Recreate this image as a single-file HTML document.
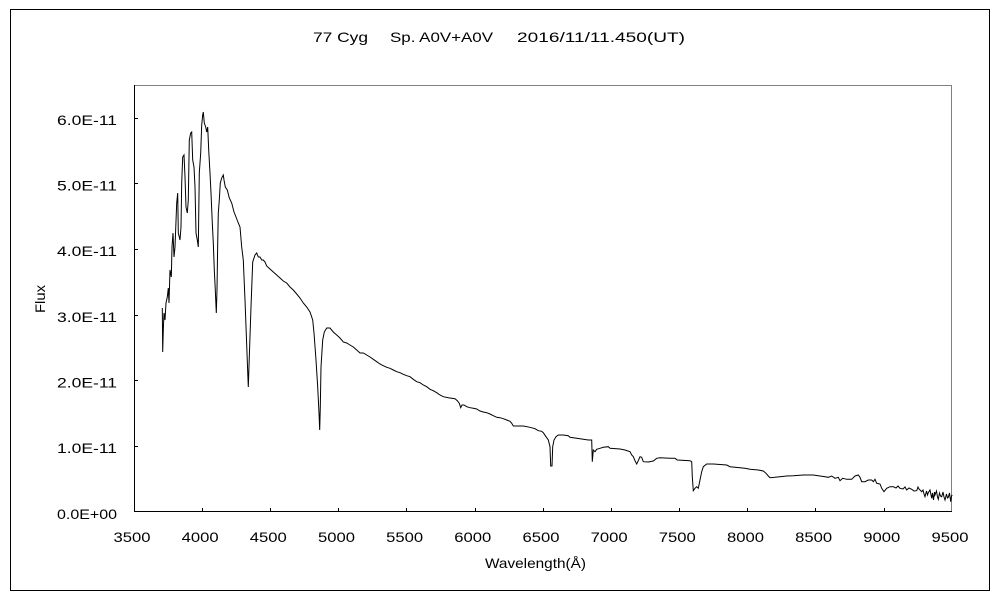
<!DOCTYPE html>
<html><head><meta charset="utf-8"><style>
html,body{margin:0;padding:0;background:#fff;}
svg{display:block;}
text{font-family:"Liberation Sans",sans-serif;font-size:14px;fill:#000;}
</style></head><body>
<svg width="1000" height="600" viewBox="0 0 1000 600" xmlns="http://www.w3.org/2000/svg">
<rect x="0" y="0" width="1000" height="600" fill="#fff"/>
<rect x="10.5" y="9.5" width="979" height="581" fill="none" stroke="#000" stroke-width="1"/>
<!-- title -->
<text x="313" y="42" textLength="55" lengthAdjust="spacingAndGlyphs">77 Cyg</text>
<text x="390" y="42" textLength="103" lengthAdjust="spacingAndGlyphs">Sp. A0V+A0V</text>
<text x="517" y="42" textLength="168" lengthAdjust="spacingAndGlyphs">2016/11/11.450(UT)</text>
<!-- plot frame -->
<line x1="134" y1="85.5" x2="952" y2="85.5" stroke="#808080" stroke-width="1"/>
<line x1="951.5" y1="85" x2="951.5" y2="512" stroke="#808080" stroke-width="1"/>
<line x1="134.5" y1="85" x2="134.5" y2="512" stroke="#000" stroke-width="1"/>
<line x1="134" y1="511.5" x2="952" y2="511.5" stroke="#000" stroke-width="1"/>
<!-- y ticks -->
<g stroke="#000" stroke-width="1">
<line x1="134" y1="446.5" x2="138" y2="446.5"/>
<line x1="134" y1="380.5" x2="138" y2="380.5"/>
<line x1="134" y1="315.5" x2="138" y2="315.5"/>
<line x1="134" y1="249.5" x2="138" y2="249.5"/>
<line x1="134" y1="183.5" x2="138" y2="183.5"/>
<line x1="134" y1="118.5" x2="138" y2="118.5"/>
</g>
<!-- x ticks -->
<g stroke="#000" stroke-width="1">
<line x1="202.5" y1="508" x2="202.5" y2="512"/>
<line x1="270.5" y1="508" x2="270.5" y2="512"/>
<line x1="338.5" y1="508" x2="338.5" y2="512"/>
<line x1="406.5" y1="508" x2="406.5" y2="512"/>
<line x1="475.5" y1="508" x2="475.5" y2="512"/>
<line x1="543.5" y1="508" x2="543.5" y2="512"/>
<line x1="611.5" y1="508" x2="611.5" y2="512"/>
<line x1="679.5" y1="508" x2="679.5" y2="512"/>
<line x1="747.5" y1="508" x2="747.5" y2="512"/>
<line x1="815.5" y1="508" x2="815.5" y2="512"/>
<line x1="884.5" y1="508" x2="884.5" y2="512"/>
</g>
<!-- y labels -->
<g text-anchor="end">
<text x="117" y="519" textLength="60" lengthAdjust="spacingAndGlyphs">0.0E+00</text>
<text x="117" y="453" textLength="60" lengthAdjust="spacingAndGlyphs">1.0E-11</text>
<text x="117" y="387.5" textLength="60" lengthAdjust="spacingAndGlyphs">2.0E-11</text>
<text x="117" y="322" textLength="60" lengthAdjust="spacingAndGlyphs">3.0E-11</text>
<text x="117" y="256" textLength="60" lengthAdjust="spacingAndGlyphs">4.0E-11</text>
<text x="117" y="190.5" textLength="60" lengthAdjust="spacingAndGlyphs">5.0E-11</text>
<text x="117" y="125" textLength="60" lengthAdjust="spacingAndGlyphs">6.0E-11</text>
</g>
<!-- x labels -->
<g>
<text x="113.5" y="542" textLength="37" lengthAdjust="spacingAndGlyphs">3500</text>
<text x="181.7" y="542" textLength="37" lengthAdjust="spacingAndGlyphs">4000</text>
<text x="249.8" y="542" textLength="37" lengthAdjust="spacingAndGlyphs">4500</text>
<text x="318" y="542" textLength="37" lengthAdjust="spacingAndGlyphs">5000</text>
<text x="386.2" y="542" textLength="37" lengthAdjust="spacingAndGlyphs">5500</text>
<text x="454.3" y="542" textLength="37" lengthAdjust="spacingAndGlyphs">6000</text>
<text x="522.5" y="542" textLength="37" lengthAdjust="spacingAndGlyphs">6500</text>
<text x="590.7" y="542" textLength="37" lengthAdjust="spacingAndGlyphs">7000</text>
<text x="658.8" y="542" textLength="37" lengthAdjust="spacingAndGlyphs">7500</text>
<text x="727" y="542" textLength="37" lengthAdjust="spacingAndGlyphs">8000</text>
<text x="795.2" y="542" textLength="37" lengthAdjust="spacingAndGlyphs">8500</text>
<text x="863.3" y="542" textLength="37" lengthAdjust="spacingAndGlyphs">9000</text>
<text x="931.5" y="542" textLength="37" lengthAdjust="spacingAndGlyphs">9500</text>
</g>
<!-- axis titles -->
<text x="485" y="568" textLength="101" lengthAdjust="spacingAndGlyphs">Wavelength(Å)</text>
<text x="45" y="299" text-anchor="middle" transform="rotate(-90 45 299)" textLength="28" lengthAdjust="spacingAndGlyphs">Flux</text>
<!-- spectrum -->
<path fill="none" stroke="#000" stroke-width="1" stroke-linejoin="miter" d="
M162.3,308 L162.7,352 163.3,330 164,313 165,320 166,303 167.3,297 168.3,288 169,303 170,270 171.3,277 172,247 173,233 174,257 175,247 176.7,203 177.7,193 178.3,233 180,240 181,227 181.7,183 182.7,157 184,155 185,177 186,207 187.3,213 188.3,200 189.3,140 190.7,133 191.7,132 192.7,160 194,167 195,187 196,233 197.3,240 198.3,247 199.3,173 200.7,153 201.7,125 202.7,115 203.3,112 204.3,123 205.7,127 206.7,132 207.7,127 208.7,150 210,173 211,193 212.3,223 213.3,243 214.3,270 215.3,290 216.3,313 217,290 217.7,243 218.3,213 219.3,200 220.3,183 221.7,178 223.3,175 224,180 225.3,187 227.3,190 229.3,198 231.7,203 234,212 236,217 238.3,223 240,227 241.7,247 243.3,260 245,300 246.7,345 247.7,372 248.3,387 249.3,357 251,307 252.7,262 255,255 256.7,253 258.3,257 260,257 261.7,260 263.3,260 265,262 266.7,266 270,269 273.3,272 276.7,275 280,278 283.3,281 286.7,283 290,287 293.3,290 296.7,294 300,298 303.3,303 306.7,307 310,312 312.7,320 314,333 316,360 317.7,387 319,413 319.7,430 320.3,407 321,367 322.7,340 324.3,332 326.7,328 330,328 333.3,332 336.7,335 340,338 343.3,342 346.7,343 350,345 353.3,347 356.7,350 360,353 363.3,353 366.7,355 370,357 373.3,359.3 376.7,361.7 380,364 383.3,365.7 386.7,367.3 390,368.3 393.3,370 396.7,371.7 400,372.7 403.3,374.3 406.7,375.7 410,376.7 413.3,379.3 416.7,381.7 420,382.7 423.3,385 426.7,386.7 430,389.3 433.3,390.7 436.7,392.7 440,395 443.3,396.7 448.3,397.7 455,398.7 457.3,400.7 459.3,403.3 460.7,407.7 462,405 464,405 466.7,406.7 470,407.7 473.3,408.3 476.7,409 480,411 483.3,412 486.7,412.7 490,414 493.3,415.7 496.7,417.3 500,417.7 503.3,418.7 506.7,420 510,421.3 511.7,423.3 513.3,426 516.7,426 523.3,426 530,427.3 535,428.7 538.3,430.7 541.7,431.3 543.3,432.7 546,436.7 548.3,440 550,446.7 550.7,466 552,466 552.7,446.7 554,440 556,436.7 558.3,435 563.3,435 568.3,435.7 570,437.3 576.7,438.3 583.3,439.3 588.3,440 591.7,440 592.3,461.7 593.3,450 595,451.7 596.7,449.3 600,448.3 603.3,447.3 608.3,446.7 610,448.3 620,449 625,450 630,451.7 631.7,455 633.3,456.7 635,460.7 636.7,464 638.3,460.7 640,456.7 641.7,457.3 643.3,461.7 648.3,462 653.3,461 656.7,458.3 660,457.7 670,458.3 675,458.3 677.3,460 690,460.7 691.7,461.7 692.3,476.7 693.3,490.7 695,488.3 696.7,486.7 698.3,488.3 700,480 701.7,471.7 703.3,466.7 706.7,464 713.3,464 726.7,465 730,466.7 740,467.7 745,468.3 750,469.3 758.3,470 763.3,471 766,473.3 768.3,476 770,477.7 775,477.3 780,476.7 786.7,476 793.3,475.7 803.3,475 813.3,475 820,476 825,476.7 828.3,477.3 831.7,476 835,478.3 838.3,477.3 840,480.7 842.7,478.3 846.7,479.3 851.7,479.3 855,476 858.3,475 860,477.3 861.7,481.7 865,481.7 868.3,480 871.7,480 873.3,481.7 875,479.3 876.7,483.3 880,484 881.7,488.3 884,491.7 886.7,488.3 890,486.7 893.3,486.7 896,488 898,486 900,488.3 903,489 905,487 906.7,490 909,488 911.7,489.3 914,491 916.7,490.7 918,487 919,489 921.7,491.7 923,490 924,494 925,496.7 926.5,491 927.5,495 928.3,492.7 930,490 931.7,498.3 932.5,493 933.5,500 934.5,492 935,495 936.5,491 937.5,497 938.3,499.3 939.5,493 940.5,496 941.7,496.7 943,492 944,497 945,500 946.5,494 947.5,498 948.3,497.3 949.5,493 950.7,501.7 951.5,496 952.3,495"/>
</svg>
</body></html>
